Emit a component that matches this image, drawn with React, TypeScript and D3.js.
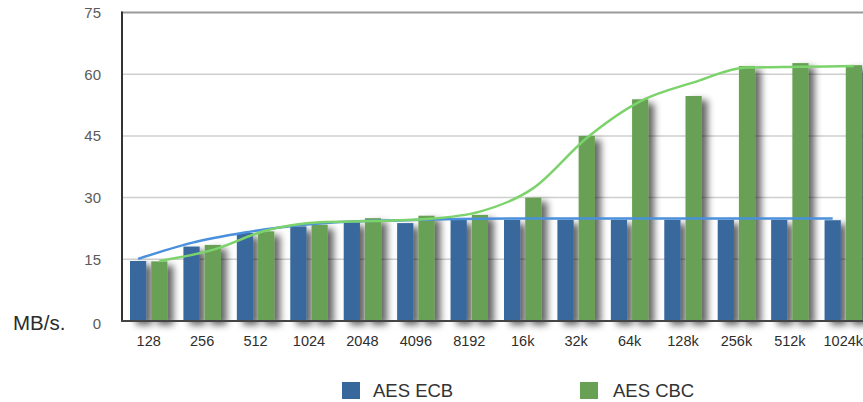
import React from "react";
import * as d3 from "d3";

const categories = ["128", "256", "512", "1024", "2048", "4096", "8192", "16k", "32k", "64k", "128k", "256k", "512k", "1024k"];
const ecbValues = [14.6, 18.1, 21.4, 23.0, 24.0, 23.8, 24.6, 24.6, 24.6, 24.6, 24.6, 24.6, 24.6, 24.5];
const cbcValues = [14.5, 18.5, 21.8, 23.4, 25.0, 25.6, 25.8, 30.0, 45.0, 53.9, 54.7, 62.0, 62.7, 62.2];
const ecbTrend = [15.1, 19.0, 21.5, 23.3, 24.2, 24.5, 24.8, 24.9, 24.9, 24.9, 24.9, 24.9, 24.9, 24.9];
const cbcTrend = [14.6, 17.3, 22.0, 24.0, 24.3, 24.8, 26.6, 32.3, 44.5, 53.4, 58.0, 61.6, 61.8, 62.0];
const yTicks = [0, 15, 30, 45, 60, 75];
const seriesNames = ["AES ECB", "AES CBC"];

const W = 863;
const H = 402;
const BLUE = "#37689c";
const GREEN = "#68a154";
const BLUE_LINE = "#4a90dc";
const GREEN_LINE = "#7cd26b";
const FONT = "'Liberation Sans', Arial, Helvetica, sans-serif";

export default function App() {
  const x = d3.scaleBand<string>().domain(categories).range([122, 870]).padding(0);
  const step = x.step();
  const sub = d3.scaleBand<string>().domain(seriesNames).range([8, step - 8]).paddingInner(0.236);
  const y = d3.scaleLinear().domain([0, 75]).range([321, 12.5]);

  const lineGen = (key: string) =>
    d3
      .line<number>()
      .x((_, i) => (x(categories[i]) as number) + (sub(key) as number) + sub.bandwidth() / 2)
      .y((d) => y(d))
      .curve(d3.curveMonotoneX);

  const bars = (vals: number[], key: string, color: string) =>
    vals.map((v, i) => (
      <rect
        key={key + i}
        x={(x(categories[i]) as number) + (sub(key) as number)}
        y={y(v)}
        width={sub.bandwidth()}
        height={y(0) - y(v)}
        fill={color}
      />
    ));

  return (
    <svg width={W} height={H} style={{ position: "absolute", left: 0, top: 0, background: "#fff" }}>
      <defs>
        <filter id="shadow" x="-50%" y="-10%" width="200%" height="130%">
          <feDropShadow dx="6" dy="4" stdDeviation="3.5" floodColor="#000" floodOpacity="0.6" />
        </filter>
      </defs>
      <rect x={0} y={0} width={W} height={H} fill="#fff" />
      {yTicks.filter((t) => t > 0 && t < 75).map((t) => (
        <line key={"g" + t} x1={122} x2={W} y1={y(t)} y2={y(t)} stroke="#cfcfcf" strokeWidth={1.5} />
      ))}
      <line x1={121} x2={W} y1={y(75)} y2={y(75)} stroke="#9a9a9a" strokeWidth={2} />
      <g filter="url(#shadow)">
        {bars(ecbValues, seriesNames[0], BLUE)}
        {bars(cbcValues, seriesNames[1], GREEN)}
      </g>
      <path d={lineGen(seriesNames[0])(ecbTrend) || ""} fill="none" stroke={BLUE_LINE} strokeWidth={2.5} />
      <path d={lineGen(seriesNames[1])(cbcTrend) || ""} fill="none" stroke={GREEN_LINE} strokeWidth={2.5} />
      <line x1={122} x2={122} y1={y(75) - 1} y2={y(0) + 1} stroke="#333" strokeWidth={2} />
      <line x1={121} x2={W} y1={y(0)} y2={y(0)} stroke="#444" strokeWidth={2} />
      {yTicks.map((t) => (
        <text
          key={"yt" + t}
          x={101}
          y={y(t) + (t === 0 ? 3 : 0)}
          dy="0.36em"
          textAnchor="end"
          fontFamily={FONT}
          fontSize={15}
          fill="#5a5a5a"
        >
          {t}
        </text>
      ))}
      {categories.map((c) => (
        <text
          key={"xt" + c}
          x={(x(c) as number) + step / 2}
          y={345.5}
          textAnchor="middle"
          fontFamily={FONT}
          fontSize={14.5}
          fill="#2e2e2e"
        >
          {c}
        </text>
      ))}
      <text x={13} y={330} fontFamily={FONT} fontSize={20.5} fill="#2b2b2b">
        MB/s.
      </text>
      <rect x={342} y={382} width={18} height={17} fill={BLUE} />
      <text x={373} y={397} fontFamily={FONT} fontSize={18.5} fill="#333">
        {seriesNames[0]}
      </text>
      <rect x={580} y={382} width={18} height={17} fill={GREEN} />
      <text x={613} y={397} fontFamily={FONT} fontSize={18.5} fill="#333">
        {seriesNames[1]}
      </text>
    </svg>
  );
}
